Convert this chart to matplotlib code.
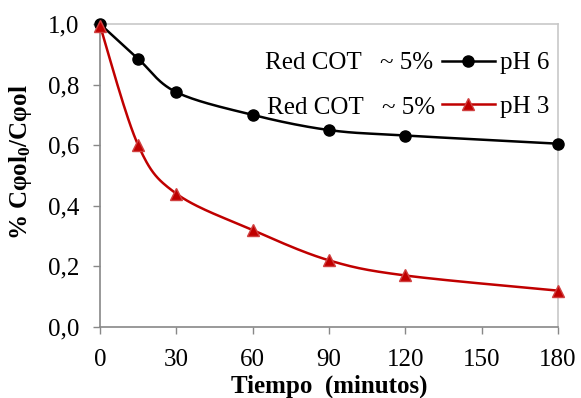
import numpy as np
import matplotlib
matplotlib.use("Agg")
import matplotlib.pyplot as plt
from matplotlib.lines import Line2D

plt.rcParams['font.family'] = ['Liberation Serif', 'DejaVu Serif']
plt.rcParams['mathtext.fontset'] = 'custom'
plt.rcParams['mathtext.rm'] = 'Liberation Serif'
plt.rcParams['mathtext.it'] = 'Liberation Serif:italic'
plt.rcParams['mathtext.bf'] = 'Liberation Serif:bold'

time_min = [0, 15, 30, 60, 90, 120, 180]
ph6 = [1.0, 0.885, 0.775, 0.70, 0.65, 0.632, 0.605]
ph3 = [0.995, 0.60, 0.44, 0.32, 0.22, 0.17, 0.12]
xticks = [0, 30, 60, 90, 120, 150, 180]
yticks = [0.0, 0.2, 0.4, 0.6, 0.8, 1.0]
series_labels = ["pH 6", "pH 3"]
prefix_label = "Red COT   ~ 5%"


def smooth(x, y, n=30):
    """Excel-like Bezier smoothing through the given points."""
    x = np.asarray(x, float)
    y = np.asarray(y, float)
    P = np.column_stack([x, y])
    out = []
    for i in range(len(P) - 1):
        p0 = P[i - 1] if i > 0 else P[i]
        p1 = P[i]
        p2 = P[i + 1]
        p3 = P[i + 2] if i + 2 < len(P) else P[i + 1]
        c1 = p1 + (p2 - p0) / 6.0
        c2 = p2 - (p3 - p1) / 6.0
        t = np.linspace(0, 1, n)[:, None]
        b = ((1 - t) ** 3) * p1 + 3 * ((1 - t) ** 2) * t * c1 + 3 * (1 - t) * t ** 2 * c2 + t ** 3 * p2
        out.append(b if i == 0 else b[1:])
    B = np.vstack(out)
    return B[:, 0], B[:, 1]


W, H = 581, 398
FS = 18
fig = plt.figure(figsize=(W / 100, H / 100), dpi=100)
ax = fig.add_axes([100 / W, 1 - 327 / H, (558 - 100) / W, (327 - 24) / H])

red = '#C00000'
sx, sy = smooth(time_min, ph6)
ax.plot(sx, sy, color='black', lw=1.8, zorder=3)
ax.plot(time_min, ph6, 'o', color='black', ms=8, zorder=4, clip_on=False)
sx, sy = smooth(time_min, ph3)
ax.plot(sx, sy, color=red, lw=1.8, zorder=3)
ax.plot(time_min, ph3, '^', color=red, mec='#d04040', ms=9, zorder=4, clip_on=False)

ax.set_xlim(0, 180)
ax.set_ylim(0, 1.0)
ax.set_xticks(xticks)
ax.set_xticklabels([str(v) for v in xticks])
ax.set_yticks(yticks)
ax.set_yticklabels([f"{v:.1f}".replace('.', ',') for v in yticks])
ax.tick_params(axis='both', direction='out', length=5, width=1, color='#888888',
               labelsize=FS)
ax.tick_params(axis='y', pad=10)
ax.tick_params(axis='x', pad=11)
for s in ['left', 'bottom']:
    ax.spines[s].set_color('#888888')
    ax.spines[s].set_linewidth(1.2)
for s in ['top', 'right']:
    ax.spines[s].set_color('#c8c8c8')
    ax.spines[s].set_linewidth(1.2)

ax.set_xlabel("Tiempo  (minutos)", fontsize=FS, fontweight='bold', labelpad=2.5)
ax.set_ylabel(r"% Cφol$_\mathbf{0}$/Cφol", fontsize=FS, fontweight='bold')
ax.yaxis.set_label_coords(-(100 - 34) / (558 - 100), (327 - 162) / (327 - 24))

handles = [Line2D([], [], color='black', lw=1.8, marker='o', ms=8),
           Line2D([], [], color=red, lw=1.8, marker='^', ms=9, mec='#d04040')]
leg = ax.legend(handles, series_labels, loc='upper left',
                bbox_to_anchor=(442 / W, 1 - 52 / H), bbox_transform=fig.transFigure,
                frameon=False, fontsize=FS, handlelength=2.1, handletextpad=0.2,
                borderpad=0, borderaxespad=0, labelspacing=0.83)
fig.text(433 / W, 1 - 63 / H, prefix_label, ha='right', va='center', fontsize=FS)
fig.text(435 / W, 1 - 108 / H, prefix_label, ha='right', va='center', fontsize=FS)

fig.savefig("out.png", dpi=100)
